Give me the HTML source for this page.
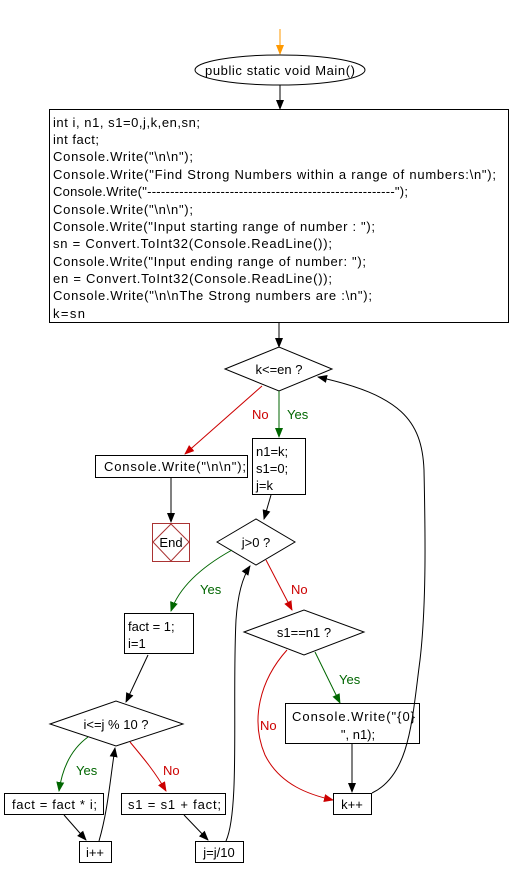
<!DOCTYPE html>
<html><head><meta charset="utf-8"><style>
body{margin:0;background:#fff}
svg text{font-family:"Liberation Sans",Arial,sans-serif;font-size:13px}
</style></head><body>
<svg width="510" height="878" viewBox="0 0 510 878" xmlns="http://www.w3.org/2000/svg">
<defs>
<marker id="ab" markerWidth="10" markerHeight="10" refX="9" refY="5" orient="auto" markerUnits="userSpaceOnUse"><path d="M0,1 L10,5 L0,9 z" fill="#000"/></marker>
<marker id="ar" markerWidth="10" markerHeight="10" refX="9" refY="5" orient="auto" markerUnits="userSpaceOnUse"><path d="M0,1 L10,5 L0,9 z" fill="#c00"/></marker>
<marker id="ag" markerWidth="10" markerHeight="10" refX="9" refY="5" orient="auto" markerUnits="userSpaceOnUse"><path d="M0,1 L10,5 L0,9 z" fill="#060"/></marker>
<marker id="ao" markerWidth="10" markerHeight="10" refX="9" refY="5" orient="auto" markerUnits="userSpaceOnUse"><path d="M0,1 L10,5 L0,9 z" fill="#f90"/></marker>
</defs>
<g fill="none" stroke-width="1">
<line x1="280" y1="29" x2="280" y2="54" stroke="#f90" marker-end="url(#ao)"/>
<ellipse cx="280" cy="70" rx="85" ry="15" stroke="#000" fill="#fff"/>
<line x1="280" y1="85" x2="280" y2="109" stroke="#000" marker-end="url(#ab)"/>
<rect x="49.5" y="109.5" width="459" height="213" stroke="#000"/>
<line x1="279" y1="322" x2="279" y2="347" stroke="#000" marker-end="url(#ab)"/>
<polygon points="225,369 279,347 332,369 279,391" stroke="#000"/>
<line x1="262" y1="386" x2="185" y2="454" stroke="#c00" marker-end="url(#ar)"/>
<line x1="279" y1="391" x2="279" y2="437" stroke="#060" marker-end="url(#ag)"/>
<rect x="95.5" y="455.5" width="152" height="22" stroke="#000"/>
<rect x="252.5" y="438.5" width="53" height="56" stroke="#000"/>
<line x1="171" y1="478" x2="171" y2="522" stroke="#000" marker-end="url(#ab)"/>
<rect x="152.5" y="523.5" width="37" height="38" stroke="#a33"/>
<polygon points="171,524 189,542 171,561 153,542" stroke="#a33"/>
<line x1="271" y1="495" x2="264" y2="519" stroke="#000" marker-end="url(#ab)"/>
<polygon points="217,542 256,519 295,542 256,565" stroke="#000"/>
<path d="M232,550 C205,565 180,585 171,611" stroke="#060" marker-end="url(#ag)"/>
<line x1="266" y1="560" x2="292" y2="610" stroke="#c00" marker-end="url(#ar)"/>
<rect x="124.5" y="613.5" width="69" height="40" stroke="#000"/>
<line x1="148" y1="655" x2="126" y2="702" stroke="#000" marker-end="url(#ab)"/>
<polygon points="50,724 116,701 183,724 116,746" stroke="#000"/>
<path d="M88,737 C70,750 62,770 59,791" stroke="#060" marker-end="url(#ag)"/>
<path d="M130,742 C145,760 155,772 166,791" stroke="#c00" marker-end="url(#ar)"/>
<rect x="4.5" y="793.5" width="99" height="21" stroke="#000"/>
<rect x="121.5" y="793.5" width="104" height="21" stroke="#000"/>
<rect x="79.5" y="841.5" width="32" height="21" stroke="#000"/>
<rect x="195.5" y="841.5" width="48" height="21" stroke="#000"/>
<line x1="64" y1="815" x2="86" y2="840" stroke="#000" marker-end="url(#ab)"/>
<line x1="184" y1="815" x2="208" y2="840" stroke="#000" marker-end="url(#ab)"/>
<path d="M99,841 C108,810 110,780 115,748" stroke="#000" marker-end="url(#ab)"/>
<path d="M226,841 C240,810 232,700 236,620 C238,590 244,575 250,566" stroke="#000" marker-end="url(#ab)"/>
<polygon points="244,632 304,610 364,632 304,655" stroke="#000"/>
<line x1="315" y1="652" x2="340" y2="703" stroke="#060" marker-end="url(#ag)"/>
<path d="M287,650 C260,680 250,720 265,755 C280,785 310,795 333,800" stroke="#c00" marker-end="url(#ar)"/>
<rect x="285.5" y="703.5" width="134" height="40" stroke="#000"/>
<rect x="333.5" y="793.5" width="38" height="21" stroke="#000"/>
<line x1="352" y1="744" x2="352" y2="792" stroke="#000" marker-end="url(#ab)"/>
<path d="M372,793 C410,775 412,720 420,660 C427,600 425,520 424,470 C422,420 400,395 318,377" stroke="#000" marker-end="url(#ab)"/>
</g>
<g fill="#000">
<text x="205" y="75" textLength="150" lengthAdjust="spacing">public static void Main()</text>
<text x="53" y="127" textLength="147" lengthAdjust="spacing">int i, n1, s1=0,j,k,en,sn;</text>
<text x="53" y="144" textLength="46" lengthAdjust="spacing">int fact;</text>
<text x="53" y="161" textLength="140" lengthAdjust="spacing">Console.Write("\n\n");</text>
<text x="53" y="179" textLength="443" lengthAdjust="spacing">Console.Write("Find Strong Numbers within a range of numbers:\n");</text>
<text x="53" y="196" textLength="355" lengthAdjust="spacing">Console.Write("------------------------------------------------------");</text>
<text x="53" y="214" textLength="140" lengthAdjust="spacing">Console.Write("\n\n");</text>
<text x="53" y="231" textLength="322" lengthAdjust="spacing">Console.Write("Input starting range of number : ");</text>
<text x="53" y="248" textLength="279" lengthAdjust="spacing">sn = Convert.ToInt32(Console.ReadLine());</text>
<text x="53" y="266" textLength="313" lengthAdjust="spacing">Console.Write("Input ending range of number: ");</text>
<text x="53" y="283" textLength="279" lengthAdjust="spacing">en = Convert.ToInt32(Console.ReadLine());</text>
<text x="53" y="300" textLength="319" lengthAdjust="spacing">Console.Write("\n\nThe Strong numbers are :\n");</text>
<text x="53" y="318" textLength="32" lengthAdjust="spacing">k=sn</text>
<text x="279" y="374" text-anchor="middle">k&lt;=en ?</text>
<text x="104" y="471" textLength="142" lengthAdjust="spacing">Console.Write("\n\n");</text>
<text x="256" y="456">n1=k;</text>
<text x="256" y="473">s1=0;</text>
<text x="256" y="490">j=k</text>
<text x="171" y="547" text-anchor="middle">End</text>
<text x="256" y="547" text-anchor="middle">j&gt;0 ?</text>
<text x="128" y="631">fact = 1;</text>
<text x="128" y="648">i=1</text>
<text x="116" y="729" text-anchor="middle">i&lt;=j % 10 ?</text>
<text x="12" y="809" textLength="85" lengthAdjust="spacing">fact = fact * i;</text>
<text x="128" y="809" textLength="93" lengthAdjust="spacing">s1 = s1 + fact;</text>
<text x="95" y="857" text-anchor="middle">i++</text>
<text x="219" y="857" text-anchor="middle">j=j/10</text>
<text x="304" y="637" text-anchor="middle">s1==n1 ?</text>
<text x="292" y="721" textLength="123" lengthAdjust="spacing">Console.Write("{0}</text>
<text x="358" y="739" text-anchor="middle">", n1);</text>
<text x="352" y="809" text-anchor="middle">k++</text>
</g>
<g fill="#c00">
<text x="252" y="419">No</text>
<text x="291" y="594">No</text>
<text x="163" y="775">No</text>
<text x="260" y="730">No</text>
</g>
<g fill="#060">
<text x="287" y="419">Yes</text>
<text x="200" y="594">Yes</text>
<text x="76" y="775">Yes</text>
<text x="339" y="684">Yes</text>
</g>
</svg>
</body></html>
